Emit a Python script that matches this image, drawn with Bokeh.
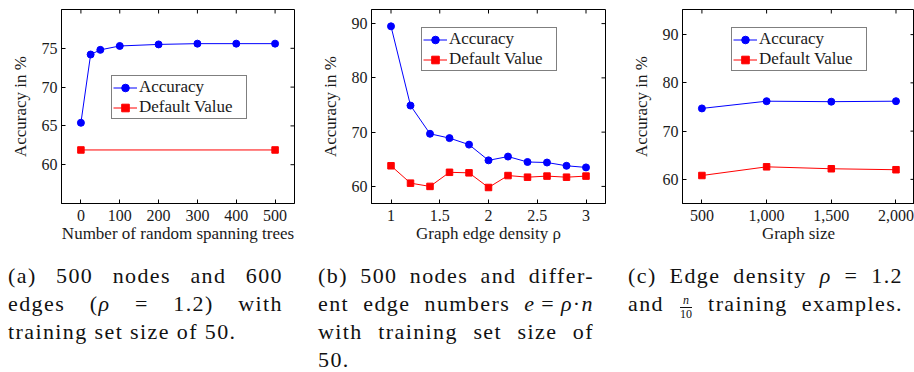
import math
from bokeh.plotting import figure
from bokeh.models import FixedTicker, NumeralTickFormatter, Range1d, Div, Legend
from bokeh.layouts import row, column
from bokeh.embed import file_html
from bokeh.resources import INLINE

# ---- data: panel (a) ----
a_trees = [0, 25, 50, 100, 200, 300, 400, 500]
a_accuracy = [65.4, 74.2, 74.8, 75.3, 75.5, 75.6, 75.6, 75.6]
a_default_x = [0, 500]
a_default = [61.9, 61.9]
a_xticks = [0, 100, 200, 300, 400, 500]
a_yticks = [60, 65, 70, 75]

# ---- data: panel (b) ----
b_density = [1.0, 1.2, 1.4, 1.6, 1.8, 2.0, 2.2, 2.4, 2.6, 2.8, 3.0]
b_accuracy = [89.5, 74.9, 69.7, 68.9, 67.7, 64.8, 65.5, 64.5, 64.4, 63.8, 63.5]
b_default = [63.8, 60.6, 60.0, 62.6, 62.5, 59.8, 62.0, 61.7, 61.9, 61.7, 61.9]
b_xticks = [1, 1.5, 2, 2.5, 3]
b_yticks = [60, 70, 80, 90]

# ---- data: panel (c) ----
c_size = [500, 1000, 1500, 2000]
c_accuracy = [74.7, 76.2, 76.1, 76.2]
c_default = [60.8, 62.6, 62.2, 62.0]
c_xticks = [500, 1000, 1500, 2000]
c_yticks = [60, 70, 80, 90]

FONT = "Liberation Serif"
TXT = "#1a1a1a"
BLUE = "#0000ff"
RED = "#ff0000"


def style_axis(ax, ticks, fmt=None):
    ax.ticker = FixedTicker(ticks=ticks)
    if fmt is not None:
        ax.formatter = fmt
    ax.axis_line_color = "black"
    ax.axis_line_width = 1
    ax.major_tick_in = 4
    ax.major_tick_out = 0
    ax.major_tick_line_color = "black"
    ax.minor_tick_line_color = None
    ax.major_label_text_font = FONT
    ax.major_label_text_font_size = "16px"
    ax.major_label_text_color = TXT


def panel(x, acc, dx, dflt, xr, yr, xticks, yticks, xlabel, width, bl, br,
          leg_xy, xfmt=None):
    p = figure(width=width, height=262, x_range=Range1d(*xr), y_range=Range1d(*yr),
               output_backend="svg", toolbar_location=None,
               min_border_left=bl, min_border_right=br,
               min_border_top=9, min_border_bottom=59)
    p.outline_line_color = "black"
    p.outline_line_width = 1
    p.xgrid.visible = False
    p.ygrid.visible = False
    p.background_fill_color = "white"
    p.border_fill_color = "white"

    xa = p.xaxis[0]
    ya = p.yaxis[0]
    style_axis(xa, xticks, xfmt)
    style_axis(ya, yticks)
    xa.major_label_standoff = 6
    ya.major_label_standoff = 4
    for ax, lab, so in ((xa, xlabel, 0), (ya, "Accuracy in %", 9)):
        ax.axis_label = lab
        ax.axis_label_text_font = FONT
        ax.axis_label_text_font_size = "17px"
        ax.axis_label_text_font_style = "normal"
        ax.axis_label_text_color = TXT
        ax.axis_label_standoff = so

    # mirrored inward ticks on the top and right edges of the box
    p.scatter(xticks, [yr[1]] * len(xticks), marker="dash", angle=math.pi / 2,
              size=8, line_color="black", line_width=1)
    p.scatter([xr[1]] * len(yticks), yticks, marker="dash", angle=0,
              size=8, line_color="black", line_width=1)

    r1 = p.line(x, acc, color=BLUE, line_width=1)
    r2 = p.scatter(x, acc, marker="circle", size=7, color=BLUE)
    r3 = p.line(dx, dflt, color=RED, line_width=1)
    r4 = p.scatter(dx, dflt, marker="square", size=6.5, color=RED)

    leg = Legend(items=[("Accuracy", [r1, r2]), ("Default Value", [r3, r4])],
                 location=leg_xy, margin=0, padding=1, spacing=0,
                 glyph_width=24, glyph_height=19, label_height=19,
                 label_width=106, label_standoff=2, label_text_font=FONT,
                 label_text_font_size="17px", label_text_color=TXT,
                 border_line_color="black", border_line_width=1,
                 background_fill_color="white", background_fill_alpha=1.0)
    p.add_layout(leg)
    return p


fa = panel(a_trees, a_accuracy, a_default_x, a_default, (-50, 550), (55, 80),
           a_xticks, a_yticks, "Number of random spanning trees",
           305, 61, 11, (50, 84))
fb = panel(b_density, b_accuracy, b_density, b_default, (0.8, 3.2), (56.85, 92.6),
           b_xticks, b_yticks, "Graph edge density ρ",
           310, 66, 10, (50, 132), xfmt=NumeralTickFormatter(format="0.[0]"))
fc = panel(c_size, c_accuracy, c_size, c_default, (350, 2143), (55, 95.2),
           c_xticks, c_yticks, "Graph size",
           299, 67, 0, (49, 132), xfmt=NumeralTickFormatter(format="0,0"))


def ln(html, justify=True, last=False):
    st = "line-height:28px;"
    if last:
        st = "line-height:20px;margin-top:4px;"
    if justify:
        st += "text-align:justify;text-align-last:justify;"
    else:
        st += "text-align:left;"
    return f'<div style="{st}">{html}</div>'


def cap(width, lines):
    base = (f"width:{width}px;font-family:'Liberation Serif';font-size:22px;"
            "letter-spacing:1.4px;color:#111;")
    return f'<div style="{base}">' + "".join(lines) + '</div>'


frac = ('<span style="display:inline-block;vertical-align:-0.55em;text-align:center;'
        'text-align-last:center;font-size:12px;line-height:13px;letter-spacing:0;margin:0 2px;">'
        '<span style="display:block;border-bottom:1px solid #111;padding:0 1px;"><i>n</i></span>'
        '<span style="display:block;">10</span></span>')

cap_a = cap(275, [ln("(a) 500 nodes and 600"),
                  ln("edges (<i>ρ</i> = 1.2) with"),
                  ln("training set size of 50.", justify=False)])
cap_b = cap(276, [ln("(b) 500 nodes and differ-"),
                  ln("ent edge numbers <i>e</i>&#8201;=&#8201;<i>ρ</i>·<i>n</i>"),
                  ln("with training set size of"),
                  ln("50.", justify=False, last=True)])
cap_c = cap(275, [ln("(c) Edge density <i>ρ</i> = 1.2"),
                  ln(f"and {frac} training examples.")])

da = Div(text=cap_a, width=275, height=110, margin=(0, 0, 0, 8), styles={"overflow": "visible"})
db = Div(text=cap_b, width=276, height=110, margin=(0, 0, 0, 35), styles={"overflow": "visible"})
dc = Div(text=cap_c, width=275, height=110, margin=(0, 0, 0, 34), styles={"overflow": "visible"})

layout = column(row(fa, fb, fc), row(da, db, dc))
open("out.html", "w").write(file_html(layout, INLINE))
